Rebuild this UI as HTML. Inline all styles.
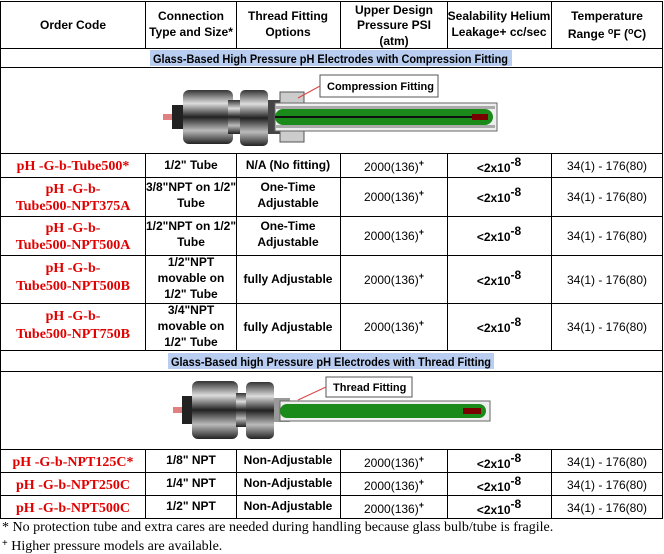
<!DOCTYPE html>
<html><head><meta charset="utf-8"><style>
body{margin:0;background:#fff;}
svg{display:block}
.h{font:bold 12px "Liberation Sans",sans-serif;fill:#000;text-anchor:middle}
.c{font:bold 12px "Liberation Sans",sans-serif;fill:#000;text-anchor:middle}
.n{font:12px "Liberation Sans",sans-serif;fill:#000;text-anchor:middle}
.r{font:bold 14px "Liberation Serif",serif;fill:#e00000;text-anchor:middle}
.s{font:bold 12px "Liberation Sans",sans-serif;fill:#000;}
.f{font:14px "Liberation Serif",serif;fill:#000}
</style></head><body>
<svg width="664" height="554" viewBox="0 0 664 554" xmlns="http://www.w3.org/2000/svg">
<defs>
<linearGradient id="nut" x1="0" y1="0" x2="0" y2="1">
<stop offset="0" stop-color="#333"/><stop offset="0.25" stop-color="#ddd"/><stop offset="0.5" stop-color="#222"/><stop offset="0.75" stop-color="#bbb"/><stop offset="1" stop-color="#222"/></linearGradient>
</defs>
<rect x="150" y="50" width="362" height="16" fill="#b8cdf0"/>
<rect x="168" y="353" width="326" height="16" fill="#b8cdf0"/>
<g stroke="#000" stroke-width="1" fill="none">
<rect x="0.5" y="1.5" width="662" height="517"/>
<line x1="0" y1="48.5" x2="663" y2="48.5"/>
<line x1="0" y1="67.5" x2="663" y2="67.5"/>
<line x1="0" y1="153.5" x2="663" y2="153.5"/>
<line x1="0" y1="177.5" x2="663" y2="177.5"/>
<line x1="0" y1="216.5" x2="663" y2="216.5"/>
<line x1="0" y1="255.5" x2="663" y2="255.5"/>
<line x1="0" y1="303.5" x2="663" y2="303.5"/>
<line x1="0" y1="350.5" x2="663" y2="350.5"/>
<line x1="0" y1="371.5" x2="663" y2="371.5"/>
<line x1="0" y1="449.5" x2="663" y2="449.5"/>
<line x1="0" y1="472.5" x2="663" y2="472.5"/>
<line x1="0" y1="495.5" x2="663" y2="495.5"/>
<g>
<line x1="145.5" y1="1" x2="145.5" y2="48"/><line x1="236.5" y1="1" x2="236.5" y2="48"/><line x1="340.5" y1="1" x2="340.5" y2="48"/><line x1="447.5" y1="1" x2="447.5" y2="48"/><line x1="551.5" y1="1" x2="551.5" y2="48"/>
<line x1="145.5" y1="153" x2="145.5" y2="350"/><line x1="236.5" y1="153" x2="236.5" y2="350"/><line x1="340.5" y1="153" x2="340.5" y2="350"/><line x1="447.5" y1="153" x2="447.5" y2="350"/><line x1="551.5" y1="153" x2="551.5" y2="350"/>
<line x1="145.5" y1="449" x2="145.5" y2="518"/><line x1="236.5" y1="449" x2="236.5" y2="518"/><line x1="340.5" y1="449" x2="340.5" y2="518"/><line x1="447.5" y1="449" x2="447.5" y2="518"/><line x1="551.5" y1="449" x2="551.5" y2="518"/>
</g></g>
<text class="h" x="73" y="29">Order Code</text>
<text class="h" x="191" y="20">Connection</text><text class="h" x="191" y="36">Type and Size*</text>
<text class="h" x="288" y="20">Thread Fitting</text><text class="h" x="288" y="36">Options</text>
<text class="h" x="394" y="14">Upper Design</text><text class="h" x="394" y="29">Pressure PSI</text><text class="h" x="394" y="45">(atm)</text>
<text class="h" x="499" y="20">Sealability Helium</text><text class="h" x="499" y="36">Leakage+ cc/sec</text>
<text class="h" x="607" y="20">Temperature</text><text class="h" x="607" y="38">Range <tspan font-size="9" dy="-4">o</tspan><tspan dy="4">F (</tspan><tspan font-size="9" dy="-4">o</tspan><tspan dy="4">C)</tspan></text>
<text class="s" x="153" y="63" textLength="355" lengthAdjust="spacingAndGlyphs">Glass-Based High Pressure pH Electrodes with Compression Fitting</text>
<text class="s" x="171" y="366" textLength="320" lengthAdjust="spacingAndGlyphs">Glass-Based high Pressure pH Electrodes with Thread Fitting</text>
<g>
<rect x="163" y="114" width="20" height="6" fill="#e08080"/>
<rect x="172" y="105" width="14" height="24" fill="#222"/>
<rect x="183" y="90" width="50" height="54" rx="6" fill="url(#nut)"/>
<rect x="228" y="100" width="14" height="34" fill="url(#nut)"/>
<rect x="240" y="90" width="28" height="56" rx="5" fill="url(#nut)"/>
<rect x="268" y="100" width="12" height="34" fill="#444"/>
<rect x="280" y="92" width="24" height="50" fill="#ccc" stroke="#555"/>
<rect x="275" y="103" width="222" height="28" fill="#eee" stroke="#666"/>
<rect x="275" y="106" width="220" height="3" fill="#aaa"/>
<rect x="275" y="125" width="220" height="3" fill="#aaa"/>
<rect x="275" y="109" width="218" height="16" rx="8" fill="#1a8a1a"/>
<line x1="275" y1="117" x2="485" y2="117" stroke="#111" stroke-width="2"/>
<rect x="472" y="114" width="16" height="6" fill="#7a0000"/>
<rect x="320" y="75" width="118" height="22" fill="#fff" stroke="#555"/>
<text x="327" y="90" style="font:bold 11px 'Liberation Sans',sans-serif">Compression Fitting</text>
<line x1="320" y1="86" x2="298" y2="98" stroke="#d44"/>
</g>
<g>
<rect x="173" y="407" width="16" height="6" fill="#e08080"/>
<rect x="182" y="396" width="14" height="28" fill="#222"/>
<rect x="192" y="381" width="46" height="58" rx="6" fill="url(#nut)"/>
<rect x="236" y="393" width="12" height="34" fill="url(#nut)"/>
<rect x="246" y="382" width="28" height="57" rx="5" fill="url(#nut)"/>
<rect x="274" y="398" width="16" height="24" fill="#999"/>
<rect x="280" y="401" width="210" height="20" fill="#eee" stroke="#666"/>
<rect x="280" y="404" width="206" height="14" rx="7" fill="#1a8a1a"/>
<rect x="463" y="408" width="18" height="6" fill="#7a0000"/>
<rect x="326" y="377" width="86" height="20" fill="#fff" stroke="#555"/>
<text x="333" y="391" style="font:bold 11px 'Liberation Sans',sans-serif">Thread Fitting</text>
<line x1="326" y1="387" x2="298" y2="400" stroke="#d44"/>
</g>
<g>
<text class="r" x="73" y="170">pH -G-b-Tube500*</text>
<text class="c" x="191" y="169">1/2" Tube</text><text class="c" x="288" y="169">N/A (No fitting)</text>
<text class="r" x="73" y="193">pH -G-b-</text><text class="r" x="73" y="210">Tube500-NPT375A</text>
<text class="c" x="191" y="191">3/8"NPT on 1/2"</text><text class="c" x="191" y="207">Tube</text>
<text class="c" x="288" y="191">One-Time</text><text class="c" x="288" y="207">Adjustable</text>
<text class="r" x="73" y="232">pH -G-b-</text><text class="r" x="73" y="249">Tube500-NPT500A</text>
<text class="c" x="191" y="230">1/2"NPT on 1/2"</text><text class="c" x="191" y="246">Tube</text>
<text class="c" x="288" y="230">One-Time</text><text class="c" x="288" y="246">Adjustable</text>
<text class="r" x="73" y="272">pH -G-b-</text><text class="r" x="73" y="290">Tube500-NPT500B</text>
<text class="c" x="191" y="266">1/2"NPT</text><text class="c" x="191" y="282">movable on</text><text class="c" x="191" y="298">1/2" Tube</text>
<text class="c" x="288" y="283">fully Adjustable</text>
<text class="r" x="73" y="320">pH -G-b-</text><text class="r" x="73" y="338">Tube500-NPT750B</text>
<text class="c" x="191" y="314">3/4"NPT</text><text class="c" x="191" y="330">movable on</text><text class="c" x="191" y="346">1/2" Tube</text>
<text class="c" x="288" y="331">fully Adjustable</text>
<text class="r" x="73" y="466">pH -G-b-NPT125C*</text>
<text class="r" x="73" y="489">pH -G-b-NPT250C</text>
<text class="r" x="73" y="512">pH -G-b-NPT500C</text>
<text class="c" x="191" y="464">1/8" NPT</text><text class="c" x="191" y="487">1/4" NPT</text><text class="c" x="191" y="510">1/2" NPT</text>
<text class="c" x="288" y="464">Non-Adjustable</text><text class="c" x="288" y="487">Non-Adjustable</text><text class="c" x="288" y="510">Non-Adjustable</text>
</g>
<g>
<text class="n" x="394" y="171">2000(136)<tspan font-size="9" font-weight="bold" dy="-5">+</tspan></text>
<text class="n" x="394" y="201">2000(136)<tspan font-size="9" font-weight="bold" dy="-5">+</tspan></text>
<text class="n" x="394" y="240">2000(136)<tspan font-size="9" font-weight="bold" dy="-5">+</tspan></text>
<text class="n" x="394" y="284">2000(136)<tspan font-size="9" font-weight="bold" dy="-5">+</tspan></text>
<text class="n" x="394" y="331">2000(136)<tspan font-size="9" font-weight="bold" dy="-5">+</tspan></text>
<text class="n" x="394" y="467">2000(136)<tspan font-size="9" font-weight="bold" dy="-5">+</tspan></text>
<text class="n" x="394" y="490">2000(136)<tspan font-size="9" font-weight="bold" dy="-5">+</tspan></text>
<text class="n" x="394" y="513">2000(136)<tspan font-size="9" font-weight="bold" dy="-5">+</tspan></text>
<text class="c" x="499" y="172">&lt;2x10<tspan dy="-6">-8</tspan></text>
<text class="c" x="499" y="202">&lt;2x10<tspan dy="-6">-8</tspan></text>
<text class="c" x="499" y="241">&lt;2x10<tspan dy="-6">-8</tspan></text>
<text class="c" x="499" y="285">&lt;2x10<tspan dy="-6">-8</tspan></text>
<text class="c" x="499" y="332">&lt;2x10<tspan dy="-6">-8</tspan></text>
<text class="c" x="499" y="468">&lt;2x10<tspan dy="-6">-8</tspan></text>
<text class="c" x="499" y="491">&lt;2x10<tspan dy="-6">-8</tspan></text>
<text class="c" x="499" y="514">&lt;2x10<tspan dy="-6">-8</tspan></text>
<text class="n" x="607" y="170">34(1) - 176(80)</text>
<text class="n" x="607" y="201">34(1) - 176(80)</text>
<text class="n" x="607" y="240">34(1) - 176(80)</text>
<text class="n" x="607" y="284">34(1) - 176(80)</text>
<text class="n" x="607" y="331">34(1) - 176(80)</text>
<text class="n" x="607" y="466">34(1) - 176(80)</text>
<text class="n" x="607" y="489">34(1) - 176(80)</text>
<text class="n" x="607" y="512">34(1) - 176(80)</text>
</g>
<text class="f" x="2" y="531">* No protection tube and extra cares are needed during handling because glass bulb/tube is fragile.</text>
<text class="f" x="2" y="550"><tspan font-size="10" font-weight="bold" dy="-4">+</tspan><tspan dy="4"> Higher pressure models are available.</tspan></text>
</svg>
</body></html>
